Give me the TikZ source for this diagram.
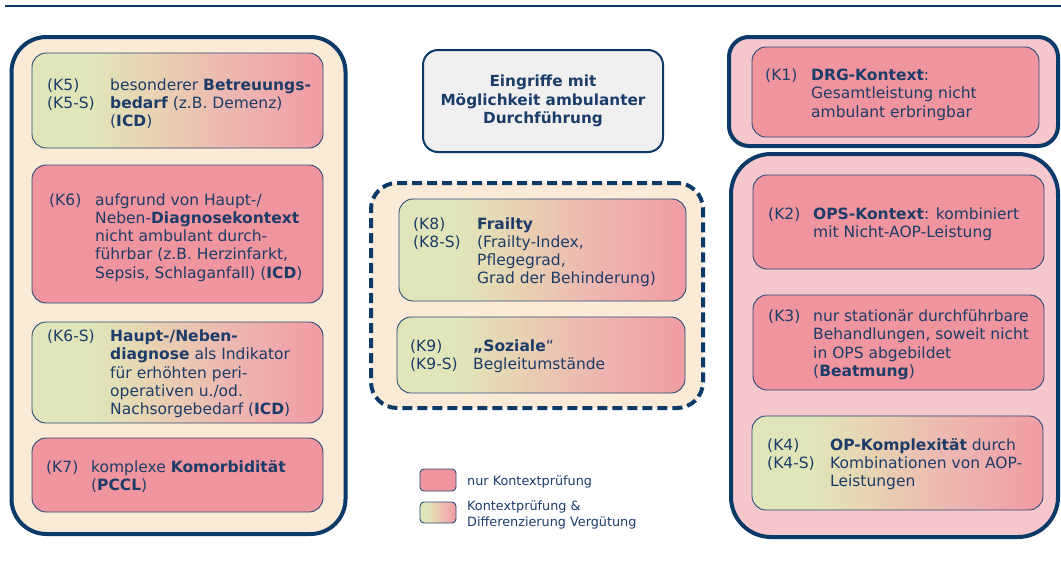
\documentclass[tikz,border=0pt]{standalone}
\usepackage{fontspec}
\setmainfont{DejaVu Sans}
\usetikzlibrary{positioning}

\definecolor{navy}{HTML}{0B3A69}
\definecolor{txt}{HTML}{1C3C69}
\definecolor{thinline}{HTML}{2A4A78}
\definecolor{cream}{HTML}{FBEBD6}
\definecolor{lightpink}{HTML}{F7C7CE}
\definecolor{kpink}{HTML}{F0949D}
\definecolor{gpink}{HTML}{F19CA4}
\definecolor{kgreen}{HTML}{E0E6B9}
\definecolor{ktan}{HTML}{E8D4B2}
\definecolor{ksalmon}{HTML}{EDB9B1}
\definecolor{greybox}{HTML}{F0F0F1}

% horizontal gradient green -> tan -> pink (visible part: 25bp..75bp)
\pgfdeclarehorizontalshading{kgrad}{100bp}{%
  color(0bp)=(kgreen); color(25bp)=(kgreen); color(35bp)=(kgreen);
  color(45bp)=(ktan); color(58bp)=(ksalmon); color(75bp)=(gpink);
  color(100bp)=(gpink)}

\newcommand\fl{\rule{0pt}{12pt}}
\newcommand\lfl{\rule{0pt}{10pt}}

\begin{document}
\begin{tikzpicture}[x=1pt,y=-1pt,
  outerbox/.style={draw=navy, line width=4pt, rounded corners=#1, inner sep=0pt},
  outerbox/.default=35pt,
  critbox/.style={draw=thinline, line width=0.9pt, rounded corners=14pt, fill=kpink, inner sep=0pt},
  gradbox/.style={draw=thinline, line width=0.9pt, rounded corners=14pt, shading=kgrad, inner sep=0pt},
  lbl/.style={anchor=north west, inner sep=0pt, align=left, text=txt,
    font=\fontsize{15.5}{18.2}\selectfont},
  legtxt/.style={anchor=north west, inner sep=0pt, align=left, text=txt,
    font=\fontsize{12.8}{15.6}\selectfont},
  legkey/.style={draw=thinline, line width=0.9pt, rounded corners=4pt,
    minimum width=36pt, minimum height=22pt, inner sep=0pt}
]
\useasboundingbox (0,0) rectangle (1061,563);

% rule along the top edge
\coordinate (ruleA) at (5,6);
\coordinate (ruleB) at (1061,6);
\draw[navy, line width=2.5pt] (ruleA) -- (ruleB);

% ---------- left group ----------
\node[outerbox, fill=cream, minimum width=334pt, minimum height=497pt] (left) at (178.5,285.5) {};
\node[gradbox, minimum width=291pt, minimum height=95pt] (k5) at (177.5,100.5) {};
\node[critbox, minimum width=291pt, minimum height=138pt] (k6) at (177.5,234) {};
\node[gradbox, minimum width=291pt, minimum height=101pt] (k6s) at (177.5,372.5) {};
\node[critbox, minimum width=291pt, minimum height=74pt] (k7) at (177.5,475) {};

\node[lbl] (k5l) at (47,78) {\fl(K5)\\(K5-S)};
\node[lbl] (k5t) at (110,78) {\fl besonderer \textbf{Betreuungs-}\\\textbf{bedarf} (z.B. Demenz)\\(\textbf{ICD})};
\node[lbl] (k6l) at (49,193) {\fl(K6)};
\node[lbl] (k6t) at (95,193) {\fl aufgrund von Haupt-/\\Neben-\textbf{Diagnosekontext}\\nicht ambulant durch-\\führbar (z.B. Herzinfarkt,\\Sepsis, Schlaganfall) (\textbf{ICD})};
\node[lbl] (k6sl) at (47,329.5) {\fl(K6-S)};
\node[lbl] (k6st) at (110,329.5) {\fl\textbf{Haupt-/Neben-}\\\textbf{diagnose} als Indikator\\für erhöhten peri-\\operativen u./od.\\Nachsorgebedarf (\textbf{ICD})};
\node[lbl] (k7l) at (46,460) {\fl(K7)};
\node[lbl] (k7t) at (91,460) {\fl komplexe \textbf{Komorbidität}\\(\textbf{PCCL})};

% ---------- middle group ----------
\node[draw=navy, line width=2pt, rounded corners=15pt, fill=greybox,
  minimum width=240pt, minimum height=102pt, align=center, text=txt,
  font=\fontsize{15.3}{18.5}\selectfont\bfseries] (title) at (543,101)
  {Eingriffe mit\\Möglichkeit ambulanter\\Durchführung};

\node[draw=navy, line width=4pt, dash pattern=on 10pt off 5pt, rounded corners=26pt,
  fill=cream, minimum width=332pt, minimum height=225pt] (soc) at (537,295.5) {};
\node[gradbox, minimum width=287pt, minimum height=102pt] (k8) at (542.5,250) {};
\node[gradbox, minimum width=288pt, minimum height=76pt] (k9) at (541,355) {};

\node[lbl] (k8l) at (413,217) {\fl(K8)\\(K8-S)};
\node[lbl] (k8t) at (477,217) {\fl\textbf{Frailty}\\(Frailty-Index,\\Pflegegrad,\\Grad der Behinderung)};
\node[lbl] (k9l) at (410,339.5) {\fl(K9)\\(K9-S)};
\node[lbl] (k9t) at (473,339.5) {\fl\textbf{„Soziale}“\\Begleitumstände};

% legend
\node[legkey, fill=kpink] (key1) at (438,480) {};
\node[legkey, shading=kgrad, minimum height=21pt] (key2) at (438,512.5) {};
\node[legtxt] (key1t) at (467,475.5) {\lfl nur Kontextprüfung};
\node[legtxt] (key2t) at (467,500.5) {\lfl Kontextprüfung \&\\Differenzierung Vergütung};

% ---------- right group ----------
\node[outerbox=20pt, fill=lightpink, minimum width=329pt, minimum height=109pt] (rtop) at (893.5,91.5) {};
\node[critbox, minimum width=287pt, minimum height=90pt] (k1) at (895.5,92) {};
\node[outerbox=40pt, fill=lightpink, minimum width=327pt, minimum height=383pt] (rbot) at (894.5,345.5) {};
\node[critbox, minimum width=291pt, minimum height=94pt] (k2) at (898.5,222) {};
\node[critbox, minimum width=291pt, minimum height=95pt] (k3) at (898.5,342.5) {};
\node[gradbox, minimum width=291pt, minimum height=94pt] (k4) at (897.5,463) {};

\node[lbl] (k1l) at (765,68.5) {\fl(K1)};
\node[lbl] (k1t) at (811,68.5) {\fl\textbf{DRG-Kontext}:\\Gesamtleistung nicht\\ambulant erbringbar};
\node[lbl] (k2l) at (768,207) {\fl(K2)};
\node[lbl] (k2t) at (813,207) {\fl\textbf{OPS-Kontext}: kombiniert\\mit Nicht-AOP-Leistung};
\node[lbl] (k3l) at (768,309.5) {\fl(K3)};
\node[lbl] (k3t) at (813,309.5) {\fl nur stationär durchführbare\\Behandlungen, soweit nicht\\in OPS abgebildet\\(\textbf{Beatmung})};
\node[lbl] (k4l) at (767,438) {\fl(K4)\\(K4-S)};
\node[lbl] (k4t) at (830,438) {\fl\textbf{OP-Komplexität} durch\\Kombinationen von AOP-\\Leistungen};
\end{tikzpicture}
\end{document}
